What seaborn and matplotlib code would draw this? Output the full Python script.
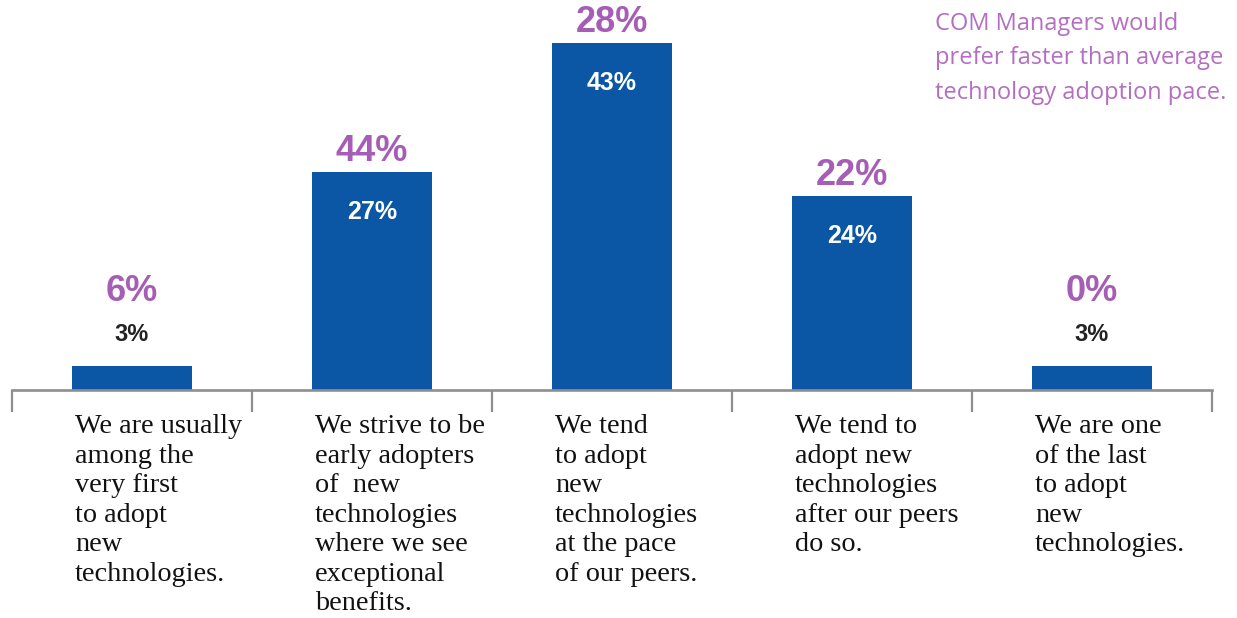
import matplotlib
matplotlib.use("Agg")
import matplotlib.pyplot as plt
import seaborn as sns
import pandas as pd

categories = [
    "We are usually\namong the\nvery first\nto adopt\nnew\ntechnologies.",
    "We strive to be\nearly adopters\nof  new\ntechnologies\nwhere we see\nexceptional\nbenefits.",
    "We tend\nto adopt\nnew\ntechnologies\nat the pace\nof our peers.",
    "We tend to\nadopt new\ntechnologies\nafter our peers\ndo so.",
    "We are one\nof the last\nto adopt\nnew\ntechnologies.",
]
overall = [3, 27, 43, 24, 3]          # bar values
com_managers = [6, 44, 28, 22, 0]      # purple labels
note = "COM Managers would\nprefer faster than average\ntechnology adoption pace."

BLUE = "#0B57A5"
PURPLE = "#A65DB6"
NOTE_PURPLE = "#B46EC2"
GREY = "#8E8E8E"

sns.set_theme(style="white")
plt.rcParams["font.family"] = ["Liberation Sans", "DejaVu Sans"]

W, H, DPI = 1237, 618, 100
fig = plt.figure(figsize=(W / DPI, H / DPI), dpi=DPI)
# axes: x from 12px to 1212px, baseline at y=390px from top, top at figure top
ax = fig.add_axes([12 / W, (H - 390) / H, 1200 / W, 390 / H])

df = pd.DataFrame({"cat": range(len(categories)), "val": overall})
sns.barplot(data=df, x="cat", y="val", color=BLUE, width=0.5, ax=ax,
            saturation=1, linewidth=0)

ymax = 390 / 8.07
ax.set_ylim(0, ymax)
ax.set_xlim(-0.5, len(categories) - 0.5)
px = ymax / 390.0  # data units per pixel
pxx = 1.0 / 240.0

for s in ["top", "right", "left"]:
    ax.spines[s].set_visible(False)
ax.spines["bottom"].set_color(GREY)
ax.spines["bottom"].set_linewidth(1.9)
ax.set_yticks([])
ax.set_xticks([i - 0.5 for i in range(len(categories) + 1)])
ax.set_xticklabels([])
ax.tick_params(axis="x", direction="out", length=16, width=1.6, color=GREY,
               bottom=True)
ax.set_xlabel("")
ax.set_ylabel("")

for i, (v, c) in enumerate(zip(overall, com_managers)):
    if v >= 10:
        ax.text(i, v - 40 * px, f"{v}%", ha="center", va="center",
                color="white", fontsize=18, fontweight="bold")
        ax.text(i, v + 11 * px, f"{c}%", ha="center", va="baseline",
                color=PURPLE, fontsize=26, fontweight="bold")
    else:
        ax.text(i, v + 31 * px, f"{v}%", ha="center", va="center",
                color="#222222", fontsize=17, fontweight="bold")
        ax.text(i, v + 74 * px, f"{c}%", ha="center", va="center",
                color=PURPLE, fontsize=26, fontweight="bold")
    ax.text(i - 0.25 + 3 * pxx, -24 * px, categories[i], ha="left", va="top",
            fontsize=20.3, family=["Liberation Serif", "DejaVu Serif"],
            color="#111111", linespacing=1.24, clip_on=False)

fig.text(935 / W, 1 - 12 / H, note, ha="left", va="top", color=NOTE_PURPLE,
         fontsize=17, family=["Open Sans", "DejaVu Sans"], linespacing=1.58)

fig.savefig("out.png", dpi=DPI, facecolor="white")
